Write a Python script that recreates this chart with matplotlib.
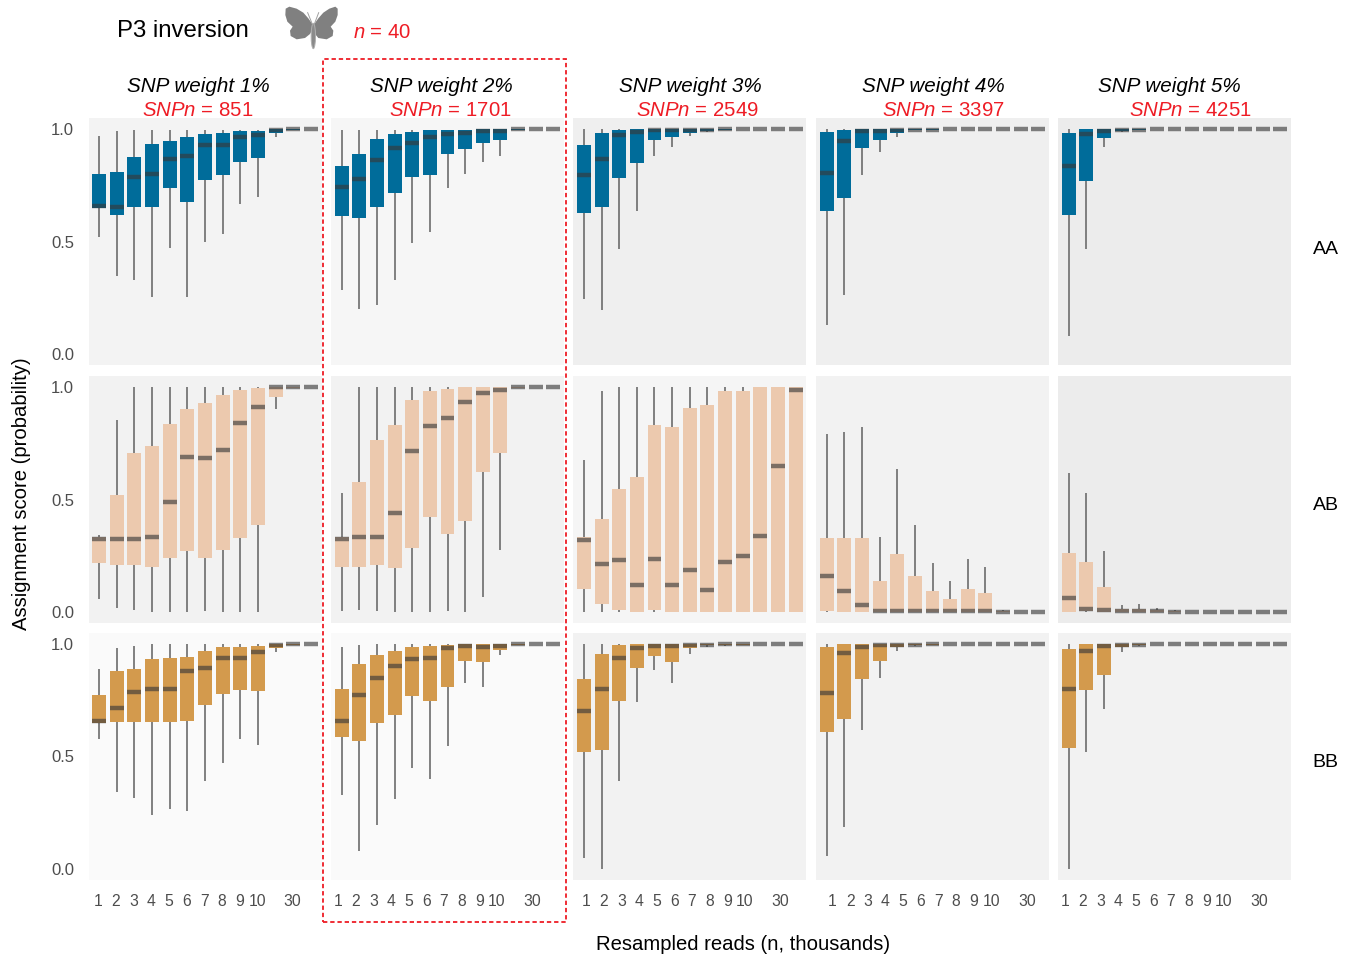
import matplotlib
matplotlib.use("Agg")
import matplotlib.pyplot as plt
from matplotlib.patches import Polygon, Rectangle, Ellipse

plt.rcParams["font.family"] = ["Liberation Sans", "DejaVu Sans"]
plt.rcParams["mathtext.fontset"] = "custom"
plt.rcParams["mathtext.it"] = "Liberation Sans:italic"
plt.rcParams["mathtext.rm"] = "Liberation Sans"

# Data, one inner list per SNP weight
positions = [1, 2, 3, 4, 5, 6, 7, 8, 9, 10, 11, 12, 13]
tick_labels = ["1", "2", "3", "4", "5", "6", "7", "8", "9", "10", "", "30", ""]
weights = ["SNP weight 1%", "SNP weight 2%", "SNP weight 3%", "SNP weight 4%", "SNP weight 5%"]
snp_counts = [851, 1701, 2549, 3397, 4251]
genotypes = ["AA", "AB", "BB"]

aa_low = [
    [.518, .345, .329, .251, .473, .251, .497, .533, .667, .696, .966, 1, 1],
    [.284, .198, .216, .329, .493, .543, .738, .799, .854, .881, .995, 1, 1],
    [.246, .196, .467, .638, .879, .92, .969, .987, .997, 1, 1, 1, 1],
    [.129, .263, .795, .897, .964, .996, .996, 1, 1, 1, 1, 1, 1],
    [.08, .466, .92, .987, .997, 1, 1, 1, 1, 1, 1, 1, 1],
]
aa_q1 = [
    [.647, .618, .653, .653, .738, .676, .774, .796, .854, .872, .984, .995, 1],
    [.613, .604, .653, .716, .787, .796, .89, .912, .939, .952, .995, 1, 1],
    [.629, .652, .781, .848, .951, .964, .982, .993, .997, 1, 1, 1, 1],
    [.634, .692, .915, .951, .982, .996, .996, 1, 1, 1, 1, 1, 1],
    [.616, .768, .96, .991, .997, 1, 1, 1, 1, 1, 1, 1, 1],
]
aa_med = [
    [.659, .653, .787, .802, .868, .882, .93, .93, .966, .975, .997, .999, 1],
    [.743, .778, .863, .917, .939, .966, .979, .984, .993, .993, .999, 1, 1],
    [.795, .866, .973, .987, .996, .996, .998, .998, .999, 1, 1, 1, 1],
    [.804, .946, .994, .994, .996, .998, .998, 1, 1, 1, 1, 1, 1],
    [.835, .978, .994, .996, .998, 1, 1, 1, 1, 1, 1, 1, 1],
]
aa_q3 = [
    [.80, .81, .876, .935, .948, .966, .979, .984, .993, .993, 1, 1, 1],
    [.836, .89, .957, .979, .988, .997, .997, .997, 1, 1, 1, 1, 1],
    [.929, .982, .996, 1, 1, 1, 1, 1, 1, 1, 1, 1, 1],
    [.987, .996, 1, 1, 1, 1, 1, 1, 1, 1, 1, 1, 1],
    [.982, 1, 1, 1, 1, 1, 1, 1, 1, 1, 1, 1, 1],
]
aa_high = [
    [.97, .994, .997, .997, .998, .998, .998, .998, .998, .998, 1, 1, 1],
    [.998, .998, .998, .998, .998, .998, .998, .998, 1, 1, 1, 1, 1],
    [1, 1, 1, 1, 1, 1, 1, 1, 1, 1, 1, 1, 1],
    [1, 1, 1, 1, 1, 1, 1, 1, 1, 1, 1, 1, 1],
    [1, 1, 1, 1, 1, 1, 1, 1, 1, 1, 1, 1, 1],
]

ab_low = [
    [.058, .016, .009, 0, 0, 0, .003, 0, 0, 0, .902, .996, 1],
    [.004, .009, .004, 0, 0, 0, .003, 0, .065, .277, .996, 1, 1],
    [0, 0, 0, 0, 0, 0, 0, 0, 0, 0, 0, 0, 0],
    [0, 0, 0, 0, 0, 0, 0, 0, 0, 0, 0, 0, 0],
    [0, 0, 0, 0, 0, 0, 0, 0, 0, 0, 0, 0, 0],
]
ab_q1 = [
    [.219, .21, .21, .201, .241, .272, .241, .277, .33, .388, .955, .996, 1],
    [.201, .201, .21, .196, .286, .42, .348, .406, .621, .705, .996, 1, 1],
    [.103, .036, .009, 0, .009, 0, 0, 0, 0, 0, 0, 0, 0],
    [.004, 0, 0, 0, 0, 0, 0, 0, 0, 0, 0, 0, 0],
    [0, .002, 0, 0, 0, 0, 0, 0, 0, 0, 0, 0, 0],
]
ab_med = [
    [.326, .326, .326, .335, .487, .688, .683, .719, .839, .911, .999, 1, 1],
    [.326, .335, .335, .442, .714, .826, .862, .933, .973, .987, 1, 1, 1],
    [.321, .214, .232, .121, .237, .121, .188, .098, .223, .25, .339, .647, .987],
    [.161, .094, .031, .004, .004, .004, .002, .002, .002, .002, 0, 0, 0],
    [.063, .013, .006, .003, .003, .002, .001, 0, 0, 0, 0, 0, 0],
]
ab_q3 = [
    [.335, .518, .705, .737, .835, .902, .929, .964, .987, .996, 1, 1, 1],
    [.335, .576, .763, .83, .942, .982, .991, 1, 1, 1, 1, 1, 1],
    [.335, .415, .545, .598, .83, .821, .906, .92, .982, .982, 1, 1, 1],
    [.33, .33, .33, .138, .259, .161, .094, .058, .103, .085, .004, 0, 0],
    [.263, .223, .112, .013, .013, .009, .004, 0, 0, 0, 0, 0, 0],
]
ab_high = [
    [.344, .856, 1, 1, 1, 1, 1, 1, 1, 1, 1, 1, 1],
    [.531, 1, 1, 1, 1, 1, 1, 1, 1, 1, 1, 1, 1],
    [.674, .981, 1, 1, 1, 1, 1, 1, 1, 1, 1, 1, 1],
    [.79, .799, .821, .335, .638, .388, .219, .138, .237, .201, .006, 0, 0],
    [.62, .531, .272, .031, .036, .018, .009, 0, 0, 0, 0, 0, 0],
]

bb_low = [
    [.58, .344, .313, .241, .268, .259, .393, .473, .576, .549, .964, .995, 1],
    [.33, .08, .196, .311, .448, .402, .548, .826, .808, .951, .996, 1, 1],
    [.046, 0, .393, .741, .884, .826, .955, .987, .994, .997, 1, 1, 1],
    [.058, .188, .62, .848, .969, .991, .997, 1, 1, 1, 1, 1, 1],
    [0, .522, .71, .964, .991, 1, 1, 1, 1, 1, 1, 1, 1],
]
bb_q1 = [
    [.647, .652, .652, .652, .652, .656, .728, .777, .795, .79, .982, .995, 1],
    [.585, .567, .647, .683, .768, .746, .808, .924, .92, .973, .996, 1, 1],
    [.522, .531, .746, .893, .946, .92, .982, .996, .997, .997, 1, 1, 1],
    [.607, .665, .844, .924, .987, .996, .997, 1, 1, 1, 1, 1, 1],
    [.536, .795, .862, .987, .996, 1, 1, 1, 1, 1, 1, 1, 1],
]
bb_med = [
    [.658, .714, .786, .799, .799, .879, .893, .9375, .9375, .964, .997, .999, 1],
    [.656, .772, .848, .902, .933, .9375, .982, .991, .987, .994, .999, 1, 1],
    [.701, .799, .9375, .982, .994, .994, .997, .998, .999, .999, 1, 1, 1],
    [.781, .96, .987, .996, .998, .998, .999, 1, 1, 1, 1, 1, 1],
    [.799, .969, .991, .997, .998, 1, 1, 1, 1, 1, 1, 1, 1],
]
bb_q3 = [
    [.772, .879, .888, .933, .9375, .942, .969, .987, .987, .991, 1, 1, 1],
    [.799, .911, .951, .969, .987, .991, .996, 1, 1, 1, 1, 1, 1],
    [.844, .955, .996, 1, 1, 1, 1, 1, 1, 1, 1, 1, 1],
    [.987, 1, 1, 1, 1, 1, 1, 1, 1, 1, 1, 1, 1],
    [.978, 1, 1, 1, 1, 1, 1, 1, 1, 1, 1, 1, 1],
]
bb_high = [
    [.888, .982, .991, 1, 1, 1, 1, 1, 1, 1, 1, 1, 1],
    [.987, .996, 1, 1, 1, 1, 1, 1, 1, 1, 1, 1, 1],
    [1, 1, 1, 1, 1, 1, 1, 1, 1, 1, 1, 1, 1],
    [1, 1, 1, 1, 1, 1, 1, 1, 1, 1, 1, 1, 1],
    [1, 1, 1, 1, 1, 1, 1, 1, 1, 1, 1, 1, 1],
]

lows = [aa_low, ab_low, bb_low]
q1s = [aa_q1, ab_q1, bb_q1]
meds = [aa_med, ab_med, bb_med]
q3s = [aa_q3, ab_q3, bb_q3]
highs = [aa_high, ab_high, bb_high]

# Styling
W, H = 1352, 955
RED = "#ee1c25"
box_colors = ["#006c9a", "#ecc9ae", "#d39a4d"]
panel_colors = [
    ["#f3f3f3", "#f6f6f6", "#efefef", "#efefef", "#ececec"],
    ["#f2f2f2", "#f2f2f2", "#f5f5f5", "#f2f2f2", "#ececec"],
    ["#fafafa", "#fafafa", "#f2f2f2", "#f2f2f2", "#f2f2f2"],
]
col_left = [88.5, 331, 573.3, 816, 1058]
row_top = [118, 376, 633]
panel_w, panel_h = 233, 247
label_shift = [-0.04, -0.2, 0.12, 0.34, -0.2]  # tick labels sit slightly off the boxes
title_x = [198.5, 441.5, 690, 933, 1169]
count_x = [198, 450, 697, 943, 1190]
box_width = 0.79


def fig_text(fig, x, y, s, **kw):
    kw.setdefault("ha", "center")
    kw.setdefault("va", "center")
    return fig.text(x / W, 1 - y / H, s, **kw)


fig = plt.figure(figsize=(W / 100, H / 100), dpi=100)

for r in range(3):
    for c in range(5):
        ax = fig.add_axes([col_left[c] / W, 1 - (row_top[r] + panel_h) / H, panel_w / W, panel_h / H])
        ax.set_facecolor(panel_colors[r][c])
        for s in ax.spines.values():
            s.set_visible(False)

        ax.vlines(positions, lows[r][c], highs[r][c], color="#666666", lw=1.15, zorder=1)
        heights = [b - a for a, b in zip(q1s[r][c], q3s[r][c])]
        ax.bar(positions, heights, box_width, bottom=q1s[r][c], color=box_colors[r], lw=0, zorder=2)
        lefts = [p - box_width / 2 for p in positions]
        rights = [p + box_width / 2 for p in positions]
        ax.hlines(meds[r][c], lefts, rights, color="#393939", alpha=0.63, lw=3.2, zorder=3, capstyle="butt")

        ax.set_xlim(0.4, 13.6)
        ax.set_ylim(-0.05, 1.05)
        ax.tick_params(length=0, colors="#4d4d4d")
        if r == 2:
            ax.set_xticks([p + label_shift[c] for p in positions])
            ax.set_xticklabels(tick_labels, fontsize=11.3, color="#4d4d4d")
            ax.tick_params(axis="x", pad=10.2)
        else:
            ax.set_xticks([])
        if c == 0:
            ax.set_yticks([0, 0.5, 1])
            ax.set_yticklabels(["0.0", "0.5", "1.0"], fontsize=12, color="#4d4d4d")
            ax.tick_params(axis="y", pad=10.5)
        else:
            ax.set_yticks([])

for c in range(5):
    fig_text(fig, title_x[c], 87, weights[c], fontsize=14.9, style="italic", color="black")
    fig_text(fig, count_x[c], 111, r"$\mathit{SNPn}$ = %d" % snp_counts[c], fontsize=14.7, color=RED)

for label, y in zip(genotypes, [250, 505, 762]):
    fig_text(fig, 1325.5, y, label, fontsize=14, color="black")

fig_text(fig, 182.5, 31, "P3 inversion", fontsize=17.3, color="black")
fig_text(fig, 382, 33, r"$\mathit{n}$ = 40", fontsize=14.6, color=RED)
fig_text(fig, 22, 494, "Assignment score (probability)", fontsize=14.6, rotation=90, color="black")
fig_text(fig, 743.5, 944, "Resampled reads (n, thousands)", fontsize=14.6, color="black")

# dashed box around the 2% column
fig.add_artist(Rectangle((323 / W, 1 - 922 / H), 243 / W, 863 / H, transform=fig.transFigure,
                         fill=False, ec=RED, lw=1.3, ls=(0, (2.4, 1.6))))

# butterfly icon, drawn in a small axes with zoom-crop coordinates
icon = fig.add_axes([270 / W, 1 - 60 / H, 150 / W, 60 / H])
icon.set_xlim(0, 450)
icon.set_ylim(180, 0)
icon.axis("off")
left_wing = [(127, 72), (115, 55), (100, 38), (80, 26), (58, 20), (47, 26), (46, 45), (52, 65), (68, 80),
             (60, 92), (62, 108), (80, 118), (105, 114), (120, 102), (127, 90)]
right_wing = [(133, 72), (145, 55), (160, 38), (178, 26), (196, 20), (203, 26), (203, 45), (196, 65), (182, 80),
              (190, 92), (188, 108), (170, 118), (145, 114), (135, 102), (133, 90)]
icon.add_patch(Polygon(left_wing, color="#808080", lw=0))
icon.add_patch(Polygon(right_wing, color="#808080", lw=0))
icon.add_patch(Ellipse((130, 108), 13, 76, fc="#8a8a8a", ec="#b0b0b0", lw=0.7))
icon.plot([128, 113], [75, 38], color="#a0a0a0", lw=0.7)
icon.plot([132, 146], [75, 38], color="#a0a0a0", lw=0.7)

fig.savefig("out.png", dpi=100)
